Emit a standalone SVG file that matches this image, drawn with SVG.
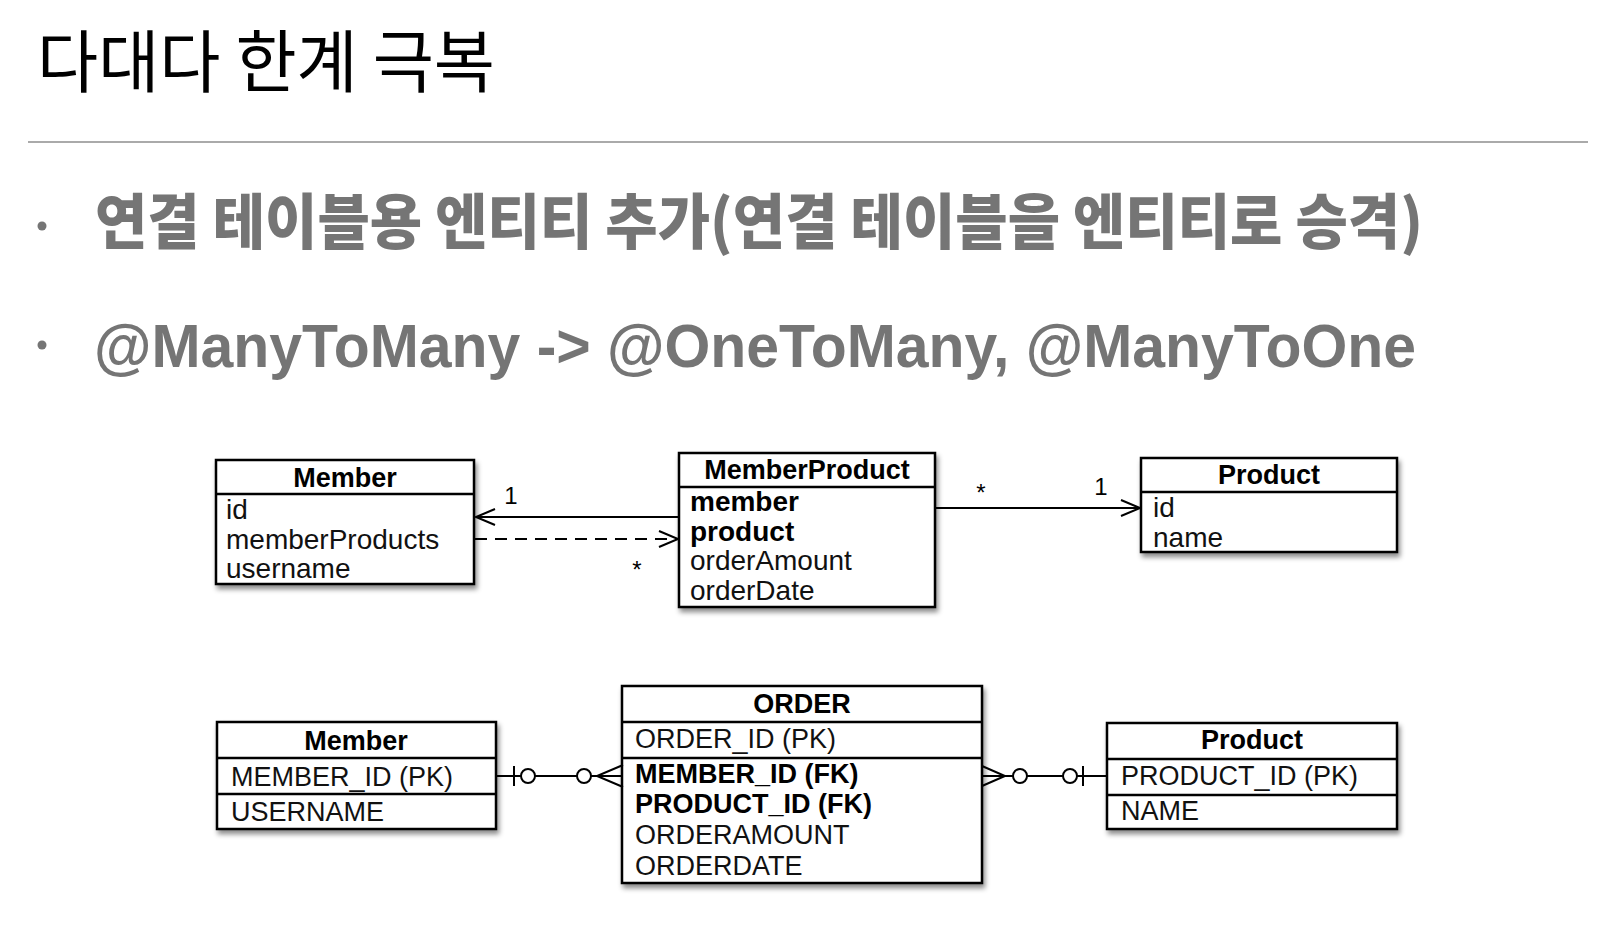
<svg xmlns="http://www.w3.org/2000/svg" width="1622" height="928" viewBox="0 0 1622 928">
<style>
.title{font-family:"Noto Sans CJK KR","Noto Sans",sans-serif;font-size:68px;fill:#000}
.b1{font-family:"Noto Sans CJK KR","Noto Sans",sans-serif;font-weight:900;font-size:60px;fill:#757575}
.b2{font-family:"Liberation Sans",Arial,sans-serif;font-weight:bold;font-size:61px;fill:#757575}
.box{fill:#fff;stroke:#000;stroke-width:2.5;filter:url(#sh)}
.sep{stroke:#000;stroke-width:2.5}
.hd{font-family:"Liberation Sans",Arial,sans-serif;font-weight:bold;font-size:27px;text-anchor:middle;fill:#000}
.f{font-family:"Liberation Sans",Arial,sans-serif;font-size:28px;fill:#111}
.fb{font-family:"Liberation Sans",Arial,sans-serif;font-size:28px;font-weight:bold;fill:#000}
.e{font-family:"Liberation Sans",Arial,sans-serif;font-size:27px;fill:#111}
.eb{font-family:"Liberation Sans",Arial,sans-serif;font-size:27px;font-weight:bold;fill:#000}
.lbl{font-family:"Liberation Sans",Arial,sans-serif;font-size:24px;fill:#000;text-anchor:middle}
.ln{stroke:#000;stroke-width:2;fill:none}
.cir{stroke:#000;stroke-width:2;fill:#fff}
</style>
<defs>
<filter id="sh" x="-10%" y="-10%" width="125%" height="135%">
<feDropShadow dx="2" dy="4" stdDeviation="2.5" flood-color="#000" flood-opacity="0.45"/>
</filter>
<marker id="open" viewBox="-22 -11 24 22" refX="0" refY="0" markerWidth="24" markerHeight="22" markerUnits="userSpaceOnUse" orient="auto">
<path d="M-19,-8 L0,0 L-19,8" fill="none" stroke="#000" stroke-width="2" stroke-dasharray="none"/>
</marker>
</defs>

<g id="heading">
<text class="title" x="37" y="87" textLength="458" lengthAdjust="spacingAndGlyphs">다대다 한계 극복</text>
<line x1="28" y1="142" x2="1588" y2="142" stroke="#aaaaaa" stroke-width="2"/>
<circle cx="42" cy="226" r="4.5" fill="#757575"/>
<text class="b1" x="95" y="244" textLength="1328" lengthAdjust="spacingAndGlyphs">연결 테이블용 엔티티 추가(연결 테이블을 엔티티로 승격)</text>
<circle cx="42" cy="345" r="4.5" fill="#757575"/>
<text class="b2" x="94" y="367" textLength="1322" lengthAdjust="spacingAndGlyphs">@ManyToMany -&gt; @OneToMany, @ManyToOne</text>
</g>

<g id="uml-member">
<rect class="box" x="216" y="460" width="258" height="124"/>
<line class="sep" x1="216" y1="494" x2="474" y2="494"/>
<text class="hd" x="345" y="487">Member</text>
<text class="f" x="226" y="519">id</text>
<text class="f" x="226" y="549">memberProducts</text>
<text class="f" x="226" y="578">username</text>
</g>

<g id="uml-memberproduct">
<rect class="box" x="679" y="453" width="256" height="154"/>
<line class="sep" x1="679" y1="487" x2="935" y2="487"/>
<text class="hd" x="807" y="479">MemberProduct</text>
<text class="fb" x="690" y="511">member</text>
<text class="fb" x="690" y="541">product</text>
<text class="f" x="690" y="570">orderAmount</text>
<text class="f" x="690" y="600">orderDate</text>
</g>

<g id="uml-product">
<rect class="box" x="1141" y="458" width="256" height="94"/>
<line class="sep" x1="1141" y1="492" x2="1397" y2="492"/>
<text class="hd" x="1269" y="484">Product</text>
<text class="f" x="1153" y="517">id</text>
<text class="f" x="1153" y="547">name</text>
</g>

<g id="erd-member">
<rect class="box" x="217" y="722" width="279" height="107"/>
<line class="sep" x1="217" y1="758" x2="496" y2="758"/>
<line class="sep" x1="217" y1="794" x2="496" y2="794"/>
<text class="hd" x="356" y="750">Member</text>
<text class="e" x="231" y="786">MEMBER_ID (PK)</text>
<text class="e" x="231" y="821">USERNAME</text>
</g>

<g id="erd-order">
<rect class="box" x="622" y="686" width="360" height="197"/>
<line class="sep" x1="622" y1="722" x2="982" y2="722"/>
<line class="sep" x1="622" y1="758" x2="982" y2="758"/>
<text class="hd" x="802" y="713">ORDER</text>
<text class="e" x="635" y="748">ORDER_ID (PK)</text>
<text class="eb" x="635" y="783">MEMBER_ID (FK)</text>
<text class="eb" x="635" y="813">PRODUCT_ID (FK)</text>
<text class="e" x="635" y="844">ORDERAMOUNT</text>
<text class="e" x="635" y="875">ORDERDATE</text>
</g>

<g id="erd-product">
<rect class="box" x="1107" y="723" width="290" height="106"/>
<line class="sep" x1="1107" y1="759" x2="1397" y2="759"/>
<line class="sep" x1="1107" y1="795" x2="1397" y2="795"/>
<text class="hd" x="1252" y="749">Product</text>
<text class="e" x="1121" y="785">PRODUCT_ID (PK)</text>
<text class="e" x="1121" y="820">NAME</text>
</g>

<g id="connectors">
<line class="ln" x1="679" y1="517" x2="476" y2="517" marker-end="url(#open)"/>
<text class="lbl" x="511" y="504">1</text>
<line class="ln" x1="475" y1="539" x2="678" y2="539" stroke-dasharray="12,8" marker-end="url(#open)"/>
<text class="lbl" x="637" y="578" font-size="22">*</text>
<line class="ln" x1="935" y1="508" x2="1140" y2="508" marker-end="url(#open)"/>
<text class="lbl" x="981" y="501" font-size="22">*</text>
<text class="lbl" x="1101" y="495">1</text>

<line class="ln" x1="496" y1="776" x2="623" y2="776"/>
<line class="ln" x1="514" y1="766" x2="514" y2="786"/>
<circle class="cir" cx="528" cy="776" r="7"/>
<circle class="cir" cx="584" cy="776" r="7"/>
<path class="ln" d="M623,765 L597,776 L623,787"/>

<line class="ln" x1="982" y1="776" x2="1107" y2="776"/>
<path class="ln" d="M982,766 L1005,776 L982,786"/>
<circle class="cir" cx="1020" cy="776" r="7"/>
<circle class="cir" cx="1070" cy="776" r="7"/>
<line class="ln" x1="1083" y1="766" x2="1083" y2="786"/>
</g>
</svg>
